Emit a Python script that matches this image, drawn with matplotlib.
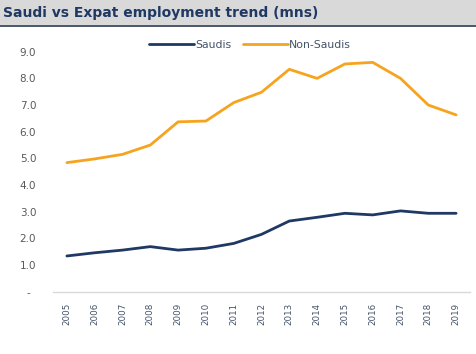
import matplotlib
matplotlib.use("Agg")
import matplotlib.pyplot as plt
from matplotlib.patches import Rectangle
from matplotlib.lines import Line2D

years = [str(y) for y in range(2005, 2020)]
saudis = [1.34, 1.46, 1.56, 1.69, 1.56, 1.63, 1.81, 2.15, 2.65, 2.79, 2.94, 2.88, 3.03, 2.94, 2.94]
non_saudis = [4.84, 4.98, 5.15, 5.50, 6.37, 6.40, 7.09, 7.48, 8.34, 8.00, 8.54, 8.60, 8.00, 7.00, 6.63]
y_ticks = [0, 1, 2, 3, 4, 5, 6, 7, 8, 9]
y_tick_labels = ["-", "1.0", "2.0", "3.0", "4.0", "5.0", "6.0", "7.0", "8.0", "9.0"]

W, H = 477, 354
fig = plt.figure(figsize=(W / 100, H / 100), dpi=100)
fig.patch.set_facecolor("white")

# Header band with title
fig.patches.append(Rectangle((0, 1 - 25 / H), 1, 25 / H, transform=fig.transFigure,
                             facecolor="#d9d9d9", edgecolor="none", zorder=0))
fig.lines.append(Line2D([0, 1], [1 - 26 / H, 1 - 26 / H], transform=fig.transFigure,
                        color="#3a4a5e", linewidth=1.3))
fig.text(3 / W, 1 - 13.5 / H, "Saudi vs Expat employment trend (mns)", ha="left", va="center",
         fontsize=10, fontweight="bold", color="#1f3864", family="DejaVu Sans")

left, right = 53 / W, 470 / W
bottom, top = 1 - 291.7 / H, 1 - 51.7 / H
ax = fig.add_axes([left, bottom, right - left, top - bottom])

navy = "#1f3864"
orange = "#f6a41f"
x = list(range(len(years)))
ax.plot(x, saudis, color=navy, linewidth=2.0, label="Saudis", solid_capstyle="round")
ax.plot(x, non_saudis, color=orange, linewidth=2.0, label="Non-Saudis", solid_capstyle="round")

ax.set_xlim(-0.5, len(years) - 0.5)
ax.set_ylim(0, 9)
ax.set_xticks(x)
ax.set_xticklabels(years, rotation=90, fontsize=6.3, color="#44546a")
ax.set_yticks(y_ticks)
ax.set_yticklabels(y_tick_labels, fontsize=7.5, color="#595959")
for lbl in ax.get_yticklabels():
    lbl.set_horizontalalignment("center")
ax.tick_params(axis="y", length=0, pad=18)
ax.tick_params(axis="x", length=0, pad=8)

for side in ["top", "right", "left"]:
    ax.spines[side].set_visible(False)
ax.spines["bottom"].set_color("#d9d9d9")
ax.spines["bottom"].set_linewidth(1.0)
ax.set_facecolor("none")

leg = fig.legend(loc="center", bbox_to_anchor=(250 / W, 1 - 45 / H), ncol=2, frameon=False,
                 fontsize=7.8, handlelength=4.2, handletextpad=0.1, columnspacing=1.0)
for t in leg.get_texts():
    t.set_color("#44546a")

fig.savefig("out.png", dpi=100)
